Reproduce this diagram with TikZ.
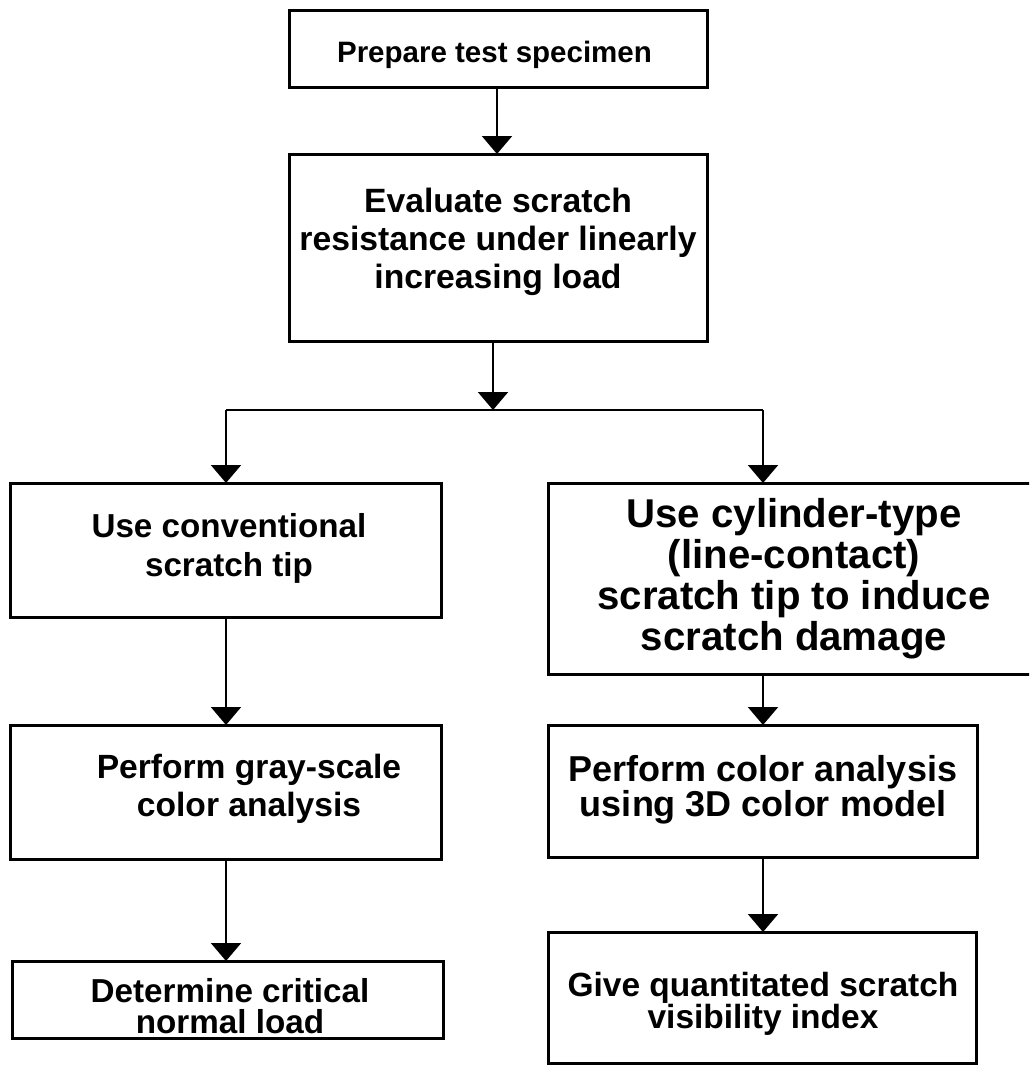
\documentclass[tikz,border=0pt]{standalone}
\usepackage{fontspec}
\setmainfont{Liberation Sans}
\usetikzlibrary{arrows.meta}

\tikzset{
  box/.style={draw, line width=3pt, inner sep=0pt, outer sep=0pt},
  lbl/.style={align=center, inner sep=0pt},
  link/.style={line width=2pt},
  conn/.style={link, -{Triangle[width=30pt,length=18pt]}},
}
\newcommand{\fs}[2]{\bfseries\fontsize{#1}{#2}\selectfont}

\begin{document}
\begin{tikzpicture}[x=1pt,y=-1pt]
  \useasboundingbox (0,0) rectangle (1029,1066);
  \clip (0,0) rectangle (1029,1066);

  % process boxes
  \node[box, minimum width=418pt, minimum height=77pt]  (b1) at (498,48.5)  {};
  \node[box, minimum width=418pt, minimum height=187pt] (b2) at (498,247.5) {};
  \node[box, minimum width=431pt, minimum height=134pt] (b3) at (225.5,550) {};
  \node[box, minimum width=492pt, minimum height=191pt] (b4) at (794,578.5) {};
  \node[box, minimum width=431pt, minimum height=134pt] (b5) at (225.5,792) {};
  \node[box, minimum width=429pt, minimum height=132pt] (b6) at (762.5,791) {};
  \node[box, minimum width=431pt, minimum height=77pt]  (b7) at (227.5,999.5) {};
  \node[box, minimum width=428pt, minimum height=131pt] (b8) at (762,997.5) {};

  % box captions
  \node[lbl, anchor=base, font=\fs{29.5}{35}] (t1) at (494.5,62) {Prepare test specimen};
  \node[lbl, font=\fs{33.7}{38}] (t2) at (498,242)
    {Evaluate scratch\\resistance under linearly\\increasing load};
  \node[lbl, font=\fs{33.2}{39}] (t3) at (229,548) {Use conventional\\scratch tip};
  \node[lbl, font=\fs{40.2}{41}] (t4) at (794,579)
    {Use cylinder-type\\(line-contact)\\scratch tip to induce\\scratch damage};
  \node[lbl, font=\fs{33.6}{38}] (t5) at (249,789) {Perform gray-scale\\color analysis};
  \node[lbl, font=\fs{36}{32}] (t6) at (763,790) {Perform color analysis\\using 3D color model};
  \node[lbl, font=\fs{33.2}{31.5}] (t7) at (230,1006) {Determine critical\\normal load};
  \node[lbl, font=\fs{33.5}{31.5}] (t8) at (763,1004) {Give quantitated scratch\\visibility index};

  % branching points
  \coordinate (j)  at (493,410);
  \coordinate (jl) at (226,410);
  \coordinate (jr) at (763,410);

  % connectors
  \draw[conn] (b1.south -| 497,0) -- (b2.north -| 497,0);
  \draw[conn] (b2.south -| j) -- (j);
  \draw[link] (jl) -- (jr);
  \draw[conn] (jl) -- (jl |- b3.north);
  \draw[conn] (jr) -- (jr |- b4.north);
  \draw[conn] (b3.south -| jl) -- (b5.north -| jl);
  \draw[conn] (b4.south -| jr) -- (b6.north -| jr);
  \draw[conn] (b5.south -| jl) -- (b7.north -| jl);
  \draw[conn] (b6.south -| jr) -- (b8.north -| jr);
\end{tikzpicture}
\end{document}
